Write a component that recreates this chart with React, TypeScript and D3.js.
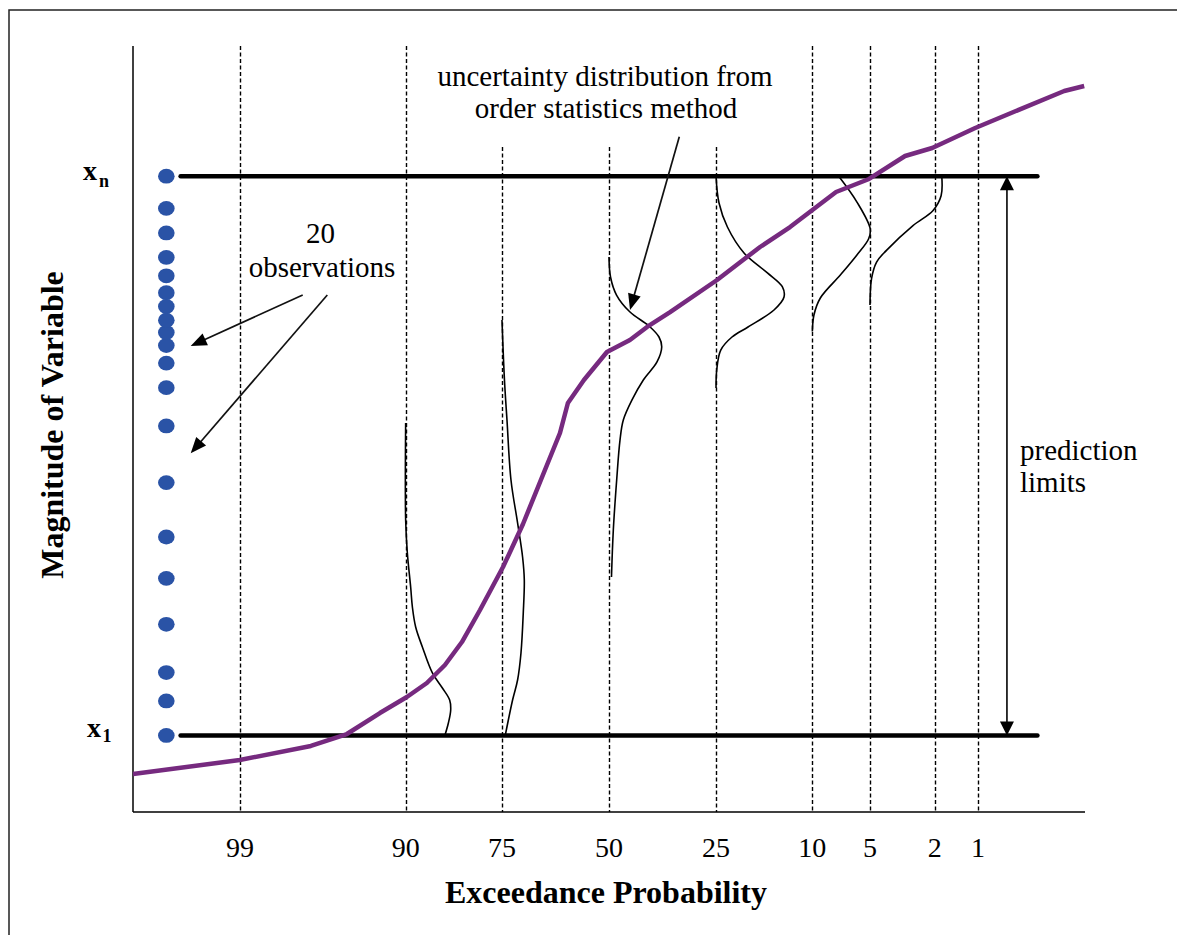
import React from 'react';
import * as d3 from 'd3';

// Exceedance probabilities (%) marked on the probability axis
const probTicks = [99, 90, 75, 50, 25, 10, 5, 2, 1];
// Lines that stop below the caption
const shortLineProbs = [75, 50, 25];

// 20 ranked observations (magnitude units)
const observations = [
  10.0, 14.5, 18.2, 24.5, 30.5, 35.9, 43.0, 50.4, 55.4, 58.6,
  60.9, 62.6, 64.2, 66.0, 67.8, 70.0, 72.4, 75.6, 78.8, 83.0,
];

// Fitted distribution: standard normal variate vs magnitude
const curveVariate = [
  -3.0, -2.327, -1.879, -1.652, -1.444, -1.274, -1.148, -1.034, -0.927, -0.813,
  -0.668, -0.542, -0.309, -0.259, -0.158, -0.013, 0.132, 0.24, 0.385, 0.681,
  0.845, 0.952, 1.141, 1.431, 1.639, 1.866, 2.037, 2.308, 2.869, 2.995,
];
const curveMagnitude = [
  4.96, 6.79, 8.62, 10.18, 12.92, 15.01, 16.84, 19.19, 22.19, 26.37,
  31.98, 37.6, 49.48, 53.39, 56.4, 60.05, 61.62, 63.32, 65.27, 69.45,
  72.06, 73.76, 76.37, 80.94, 82.64, 85.64, 86.68, 89.3, 94.13, 94.78,
];

// Uncertainty distributions of the quantile at selected exceedance probabilities
const distProbs = [90, 75, 50, 25, 10, 5];
const dist90Mag = [50.78, 38.12, 33.81, 29.37, 26.76, 24.15, 21.54, 18.15, 16.19, 14.62, 13.32, 11.62, 10.0];
const dist90Den = [0, 0, 0.021, 0.0625, 0.084, 0.125, 0.209, 0.334, 0.459, 0.55, 0.563, 0.534, 0.49];
const dist75Mag = [64.23, 56.4, 51.17, 43.34, 37.73, 33.29, 30.29, 25.98, 20.76, 17.23, 14.62, 10.0];
const dist75Den = [0, 0.031, 0.0625, 0.1125, 0.195, 0.2575, 0.279, 0.266, 0.2375, 0.195, 0.1325, 0.041];
const dist50Mag = [72.45, 69.84, 67.49, 65.27, 63.45, 62.01, 60.7, 58.75, 56.4, 53.79, 51.17, 48.56, 43.34, 36.81, 30.68];
const dist50Den = [0, 0.019, 0.094, 0.2625, 0.5, 0.625, 0.659, 0.6, 0.429, 0.2875, 0.179, 0.1375, 0.096, 0.054, 0.031];
const dist25Mag = [83.0, 79.5, 76.37, 72.98, 70.37, 68.54, 67.23, 65.54, 63.32, 62.01, 60.31, 57.7, 55.35];
const dist25Den = [0, 0.0375, 0.1425, 0.35, 0.6425, 0.83, 0.85, 0.725, 0.4, 0.2, 0.059, 0.009, 0];
const dist10Mag = [83.0, 79.63, 76.11, 74.8, 72.72, 70.1, 67.1, 64.88, 62.73];
const dist10Den = [0.33, 0.5575, 0.724, 0.7025, 0.5575, 0.35, 0.1, 0.02, 0];
const dist5Mag = [83.0, 80.44, 78.49, 76.55, 73.32, 71.8, 69.65, 66.19];
const dist5Den = [0.8975, 0.889, 0.786, 0.5375, 0.206, 0.0825, 0.02, 0];

const distMags = [dist90Mag, dist75Mag, dist50Mag, dist25Mag, dist10Mag, dist5Mag];
const distDens = [dist90Den, dist75Den, dist50Den, dist25Den, dist10Den, dist5Den];

// Inverse standard normal CDF (Acklam's rational approximation)
function normInv(p: number): number {
  const a = [-39.69683028665376, 220.9460984245205, -275.9285104469687, 138.357751867269, -30.66479806614716, 2.506628277459239];
  const b = [-54.47609879822406, 161.5858368580409, -155.6989798598866, 66.80131188771972, -13.28068155288572];
  const c = [-0.007784894002430293, -0.3223964580411365, -2.400758277161838, -2.549732539343734, 4.374664141464968, 2.938163982698783];
  const d = [0.007784695709041462, 0.3224671290700398, 2.445134137142996, 3.754408661907416];
  const pl = 0.02425;
  if (p < pl) {
    const q = Math.sqrt(-2 * Math.log(p));
    return (((((c[0] * q + c[1]) * q + c[2]) * q + c[3]) * q + c[4]) * q + c[5]) / ((((d[0] * q + d[1]) * q + d[2]) * q + d[3]) * q + 1);
  }
  if (p <= 1 - pl) {
    const q = p - 0.5;
    const r = q * q;
    return ((((((a[0] * r + a[1]) * r + a[2]) * r + a[3]) * r + a[4]) * r + a[5]) * q) / (((((b[0] * r + b[1]) * r + b[2]) * r + b[3]) * r + b[4]) * r + 1);
  }
  const q = Math.sqrt(-2 * Math.log(1 - p));
  return -(((((c[0] * q + c[1]) * q + c[2]) * q + c[3]) * q + c[4]) * q + c[5]) / ((((d[0] * q + d[1]) * q + d[2]) * q + d[3]) * q + 1);
}

const W = 1177;
const H = 935;
const PLOT = { left: 133, right: 1085, top: 46, bottom: 812 };
const SERIF = "'Liberation Serif', 'Times New Roman', serif";
const PURPLE = '#762a7f';
const DOT = '#2a53a6';

const zScale = d3.scaleLinear().domain([-3, 3]).range([PLOT.left, PLOT.right]);
const yScale = d3.scaleLinear().domain([0, 100]).range([PLOT.bottom, PLOT.top]);
const densScale = d3.scaleLinear().domain([0, 1]).range([0, 80]);
const probX = (p: number) => zScale(normInv(1 - p / 100));

function Arrow({ x1, y1, x2, y2, len = 16, half = 6.5, heads = 'end' }: any) {
  const dx = x2 - x1;
  const dy = y2 - y1;
  const L = Math.hypot(dx, dy);
  const ux = dx / L;
  const uy = dy / L;
  const head = (tx: number, ty: number, sx: number, sy: number) => {
    const bx = tx - sx * len;
    const by = ty - sy * len;
    return `${tx},${ty} ${bx - sy * half},${by + sx * half} ${bx + sy * half},${by - sx * half}`;
  };
  const sx0 = heads === 'both' ? x1 + ux * (len - 1) : x1;
  const sy0 = heads === 'both' ? y1 + uy * (len - 1) : y1;
  return (
    <g>
      <line x1={sx0} y1={sy0} x2={x2 - ux * (len - 1)} y2={y2 - uy * (len - 1)} stroke="#111" strokeWidth={1.7} />
      <polygon points={head(x2, y2, ux, uy)} fill="#000" />
      {heads === 'both' && <polygon points={head(x1, y1, -ux, -uy)} fill="#000" />}
    </g>
  );
}

export default function App() {
  const x1Val = observations[0];
  const xnVal = observations[observations.length - 1];
  const captionBottom = 147;

  const curveLine = d3
    .line<number>()
    .x((_, i) => zScale(curveVariate[i]))
    .y((_, i) => yScale(curveMagnitude[i]))
    .curve(d3.curveLinear);

  const distPaths = distProbs.map((p, k) => {
    const base = probX(p);
    const gen = d3
      .line<number>()
      .x((_, i) => base + densScale(distDens[k][i]))
      .y((m) => yScale(m))
      .curve(d3.curveCatmullRom.alpha(0.5));
    return gen(distMags[k]) as string;
  });

  const limitX0 = zScale(-2.70);
  const limitX1 = zScale(2.70);
  const dotX = zScale(-2.79);
  const predX = zScale(2.508);

  return (
    <svg width={W} height={H} style={{ position: 'absolute', left: 0, top: 0, background: '#fff' }}>
      <rect x={0} y={0} width={W} height={H} fill="#fff" />
      {/* outer frame */}
      <path d={`M9,${H} V10 H${W}`} fill="none" stroke="#222" strokeWidth={1.5} />

      {/* probability grid */}
      {probTicks.map((p) => (
        <line
          key={p}
          x1={Math.round(probX(p)) + 0.5}
          x2={Math.round(probX(p)) + 0.5}
          y1={shortLineProbs.includes(p) ? captionBottom : PLOT.top}
          y2={PLOT.bottom}
          stroke="#000"
          strokeWidth={1.4}
          strokeDasharray="4,2.5"
        />
      ))}

      {/* axes */}
      <line x1={PLOT.left} x2={PLOT.left} y1={PLOT.top} y2={PLOT.bottom} stroke="#000" strokeWidth={1.5} />
      <line x1={PLOT.left} x2={PLOT.right} y1={PLOT.bottom} y2={PLOT.bottom} stroke="#000" strokeWidth={1.5} />

      {/* tick labels */}
      {probTicks.map((p) => (
        <text key={p} x={probX(p)} y={857} textAnchor="middle" fontFamily={SERIF} fontSize={28} fill="#000">
          {p}
        </text>
      ))}

      {/* axis titles */}
      <text x={606} y={903} textAnchor="middle" fontFamily={SERIF} fontSize={32} fontWeight="bold" fill="#000">
        Exceedance Probability
      </text>
      <text
        transform="translate(63,425) rotate(-90)"
        textAnchor="middle"
        fontFamily={SERIF}
        fontSize={32}
        fontWeight="bold"
        fill="#000"
      >
        Magnitude of Variable
      </text>

      {/* prediction limits */}
      {[xnVal, x1Val].map((v, i) => (
        <line key={i} x1={limitX0} x2={limitX1} y1={yScale(v)} y2={yScale(v)} stroke="#000" strokeWidth={4.5} strokeLinecap="round" />
      ))}
      <text x={83} y={180} fontFamily={SERIF} fontSize={28} fontWeight="bold">x</text>
      <text x={99} y={187} fontFamily={SERIF} fontSize={18} fontWeight="bold">n</text>
      <text x={87} y={737} fontFamily={SERIF} fontSize={28} fontWeight="bold">x</text>
      <text x={102.5} y={742} fontFamily={SERIF} fontSize={18} fontWeight="bold">1</text>

      {/* uncertainty distributions */}
      {distPaths.map((d, i) => (
        <path key={i} d={d} fill="none" stroke="#000" strokeWidth={1.6} />
      ))}

      {/* fitted curve */}
      <path d={curveLine(curveVariate) as string} fill="none" stroke={PURPLE} strokeWidth={4.5} strokeLinejoin="round" />

      {/* observations */}
      {observations.map((v, i) => (
        <ellipse key={i} cx={dotX} cy={yScale(v)} rx={8.3} ry={7.4} fill={DOT} />
      ))}

      {/* annotations */}
      <text x={320.5} y={243} textAnchor="middle" fontFamily={SERIF} fontSize={29}>20</text>
      <text x={322} y={277} textAnchor="middle" fontFamily={SERIF} fontSize={29}>observations</text>
      <Arrow x1={302.7} y1={295} x2={190.7} y2={346} />
      <Arrow x1={327.3} y1={295} x2={190.7} y2={453.3} />

      <text x={605} y={86} textAnchor="middle" fontFamily={SERIF} fontSize={29}>uncertainty distribution from</text>
      <text x={606} y={118} textAnchor="middle" fontFamily={SERIF} fontSize={29}>order statistics method</text>
      <Arrow x1={679.3} y1={136.7} x2={630} y2={310} />

      <Arrow x1={predX} y1={yScale(xnVal)} x2={predX} y2={yScale(x1Val)} heads="both" len={14} half={7} />
      <text x={1020} y={460} fontFamily={SERIF} fontSize={29}>prediction</text>
      <text x={1020} y={492} fontFamily={SERIF} fontSize={29}>limits</text>
    </svg>
  );
}
